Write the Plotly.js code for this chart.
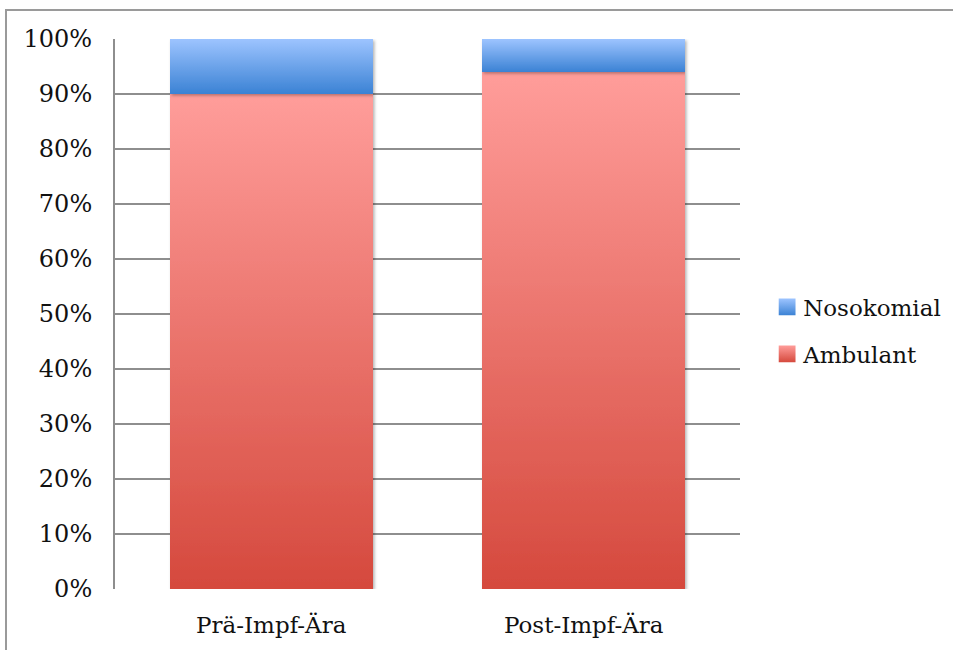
<!DOCTYPE html>
<html>
<head>
<meta charset="utf-8">
<script src="https://cdn.plot.ly/plotly-3.0.1.min.js"></script>
<style>
  html, body { margin: 0; padding: 0; background: #fff; }
  #wrap { position: relative; width: 953px; height: 650px; }
  #chart { width: 953px; height: 650px; }
  #frame {
    position: absolute; left: 5px; top: 9px; right: -10px; bottom: -10px;
    border-left: 2px solid #9a9a9a; border-top: 2px solid #9a9a9a;
    pointer-events: none;
  }
</style>
</head>
<body>
<div id="wrap">
  <div id="chart"></div>
  <div id="frame"></div>
</div>
<script>
// Share of cases by setting, before and after vaccination
const categories = ['Prä-Impf-Ära', 'Post-Impf-Ära'];
const ambulant = [90, 94];
const nosokomial = [10, 6];
const tickValues = [0, 10, 20, 30, 40, 50, 60, 70, 80, 90, 100];
const tickLabels = ['0%', '10%', '20%', '30%', '40%', '50%', '60%', '70%', '80%', '90%', '100%'];

// vertical gradient stops per series (top -> bottom)
const gradients = {
  Ambulant: ['#ff9d9a', '#d5493d'],
  Nosokomial: ['#9dc4ff', '#3b82d4']
};

const FONT = 'DejaVu Serif, Liberation Serif, serif';

const traces = [
  { type: 'bar', name: 'Ambulant', x: categories, y: ambulant, legendrank: 2,
    marker: { color: gradients.Ambulant[1], line: { width: 0 } }, legendgroup: 'a', hoverinfo: 'none' },
  { type: 'bar', name: 'Nosokomial', x: categories, y: nosokomial, legendrank: 1,
    marker: { color: gradients.Nosokomial[1], line: { width: 0 } }, legendgroup: 'n', hoverinfo: 'none' }
];

const layout = {
  width: 953, height: 650,
  margin: { l: 115, r: 213, t: 39, b: 61, pad: 0, autoexpand: false },
  paper_bgcolor: '#ffffff', plot_bgcolor: '#ffffff',
  barmode: 'stack',
  bargap: 0.35,
  font: { family: FONT, size: 23, color: '#111' },
  xaxis: {
    type: 'category',
    showgrid: false, zeroline: false, showline: false, ticks: '',
    ticklabelstandoff: 20,
    tickfont: { family: FONT, size: 23, color: '#111' }
  },
  yaxis: {
    range: [0, 100],
    tickvals: tickValues, ticktext: tickLabels,
    showgrid: true, gridcolor: '#8e8e8e', gridwidth: 1.5,
    zeroline: false,
    showline: true, linecolor: '#8e8e8e', linewidth: 2,
    ticks: '', ticklabelstandoff: 16,
    tickfont: { family: FONT, size: 24, color: '#111' }
  },
  showlegend: true,
  legend: {
    x: 1.037, xanchor: 'left', y: 0.47, yanchor: 'middle',
    traceorder: 'grouped', tracegroupgap: 14,
    font: { family: FONT, size: 23, color: '#111' },
    bgcolor: 'rgba(0,0,0,0)', borderwidth: 0
  }
};

const SVGNS = 'http://www.w3.org/2000/svg';

function ensureDefs(svg) {
  if (svg.querySelector('#grad-Ambulant')) return;
  let defs = svg.querySelector('defs');
  if (!defs) { defs = document.createElementNS(SVGNS, 'defs'); svg.insertBefore(defs, svg.firstChild); }
  Object.keys(gradients).forEach(function (name) {
    const g = document.createElementNS(SVGNS, 'linearGradient');
    g.setAttribute('id', 'grad-' + name);
    g.setAttribute('x1', '0'); g.setAttribute('y1', '0');
    g.setAttribute('x2', '0'); g.setAttribute('y2', '1');
    [[0, gradients[name][0]], [1, gradients[name][1]]].forEach(function (s) {
      const st = document.createElementNS(SVGNS, 'stop');
      st.setAttribute('offset', s[0]);
      st.setAttribute('stop-color', s[1]);
      g.appendChild(st);
    });
    defs.appendChild(g);
  });
  const f = document.createElementNS(SVGNS, 'filter');
  f.setAttribute('id', 'barShadow');
  f.setAttribute('x', '-10%'); f.setAttribute('y', '-10%');
  f.setAttribute('width', '130%'); f.setAttribute('height', '130%');
  const ds = document.createElementNS(SVGNS, 'feDropShadow');
  ds.setAttribute('dx', '1.5'); ds.setAttribute('dy', '1.5');
  ds.setAttribute('stdDeviation', '1.5');
  ds.setAttribute('flood-color', '#000'); ds.setAttribute('flood-opacity', '0.3');
  f.appendChild(ds);
  defs.appendChild(f);
}

function styleBars(gd) {
  const svg = gd.querySelector('.main-svg');
  ensureDefs(svg);
  gd.querySelectorAll('.barlayer .trace').forEach(function (tr) {
    const d = tr.__data__;
    const name = d && d[0] && d[0].trace ? d[0].trace.name : null;
    if (!name) return;
    tr.setAttribute('filter', 'url(#barShadow)');
    tr.querySelectorAll('path').forEach(function (p) { p.style.fill = 'url(#grad-' + name + ')'; });
  });
  gd.querySelectorAll('.legend .traces').forEach(function (tr) {
    const t = tr.querySelector('.legendtext');
    const name = t ? t.textContent : null;
    if (!gradients[name]) return;
    tr.querySelectorAll('.legendpoints path').forEach(function (p) {
      p.style.fill = 'url(#grad-' + name + ')';
      // larger swatch, nudged toward the label
      p.setAttribute('transform', 'translate(24,0) scale(1.4)');
    });
  });
}

const gd = document.getElementById('chart');
Plotly.newPlot(gd, traces, layout, { staticPlot: true, displayModeBar: false }).then(function () {
  styleBars(gd);
  gd.on('plotly_afterplot', function () { styleBars(gd); });
});
</script>
</body>
</html>
